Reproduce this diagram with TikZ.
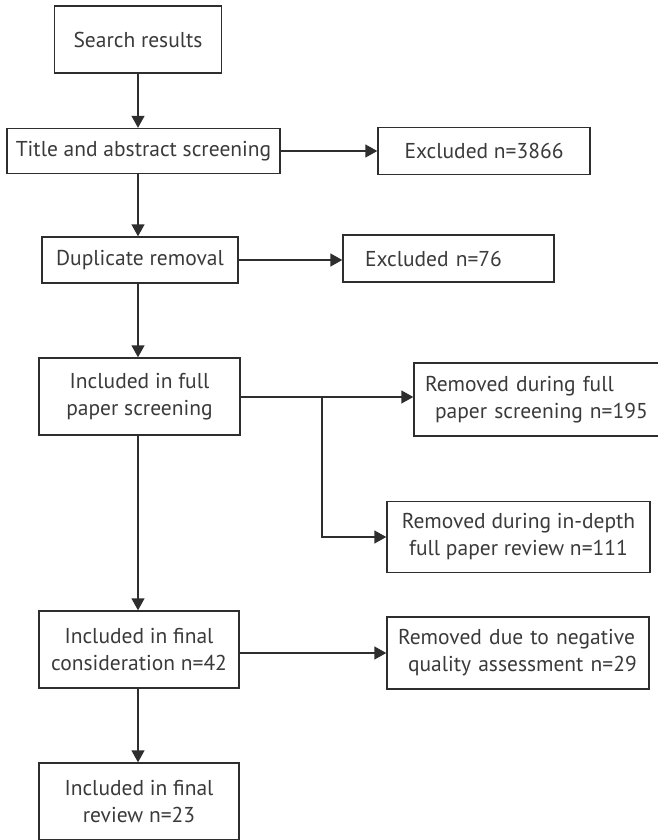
\documentclass[tikz,border=0pt]{standalone}
\usepackage{fontspec}
\setmainfont{PT Sans}
\usepackage{tikz}
\usetikzlibrary{arrows.meta,positioning,calc}
\definecolor{inkgray}{HTML}{2E2E2E}
\definecolor{textgray}{HTML}{3A3A3A}

\begin{document}
\begin{tikzpicture}[x=1pt,y=-1pt,>={Triangle[length=12pt,width=13pt]},
  box/.style={draw=inkgray,line width=1.4pt,inner sep=0pt,align=center,text=textgray,
    font=\fontsize{21.5}{27}\selectfont},
  flow/.style={draw=inkgray,line width=1.4pt}]
  \useasboundingbox (0,0) rectangle (658,840);
  \node[box,minimum width=167pt,minimum height=67pt] (search) at (138,39.5) {Search results};
  \node[box,minimum width=273pt,minimum height=45pt] (title) at (143.5,151) {Title and abstract screening};
  \node[box,minimum width=212pt,minimum height=47pt] (excl1) at (484,151) {Excluded n=3866};
  \node[box,minimum width=196pt,minimum height=46pt] (dup) at (140,260) {Duplicate removal};
  \node[box,minimum height=47pt,inner xsep=22pt,text width=167pt,align=left] (excl2) at (448.5,258.5) {Excluded n=76};
  \node[box,minimum width=201pt,minimum height=77pt] (fullscr) at (139.5,396.5) {Included in full\\paper screening};
  \node[box,minimum height=73pt,inner xsep=11pt,text width=228pt,align=left] (rem1) at (539,399.5) {Removed during full\\\hspace*{10pt}paper screening n=195};
  \node[box,minimum width=263pt,minimum height=71pt] (rem2) at (518.5,537) {Removed during in-depth\\full paper review n=111};
  \node[box,minimum width=200pt,minimum height=77pt] (cons) at (139,649.5) {Included in final\\consideration n=42};
  \node[box,minimum height=72pt,inner xsep=11pt,text width=240pt,align=left] (rem3) at (518,653) {Removed due to negative\\\hspace*{10pt}quality assessment n=29};
  \node[box,minimum width=200pt,minimum height=77pt] (review) at (139,801.5) {Included in final\\review n=23};
  \coordinate (split) at (322,397);
  \draw[flow,->] (search.south) -- (search.south |- title.north);
  \draw[flow,->] (search.south |- title.south) -- (search.south |- dup.north);
  \draw[flow,->] (title.east) -- (excl1.west);
  \draw[flow,->] (dup.east) -- (dup.east -| excl2.west);
  \draw[flow,->] (search.south |- dup.south) -- (search.south |- fullscr.north);
  \draw[flow,->] (fullscr.east |- split) -- (split -| rem1.west);
  \draw[flow,->] (split) |- (rem2.west);
  \draw[flow,->] (search.south |- fullscr.south) -- (search.south |- cons.north);
  \draw[flow,->] (rem3.west -| cons.east) -- (rem3.west);
  \draw[flow,->] (search.south |- cons.south) -- (search.south |- review.north);
\end{tikzpicture}
\end{document}
